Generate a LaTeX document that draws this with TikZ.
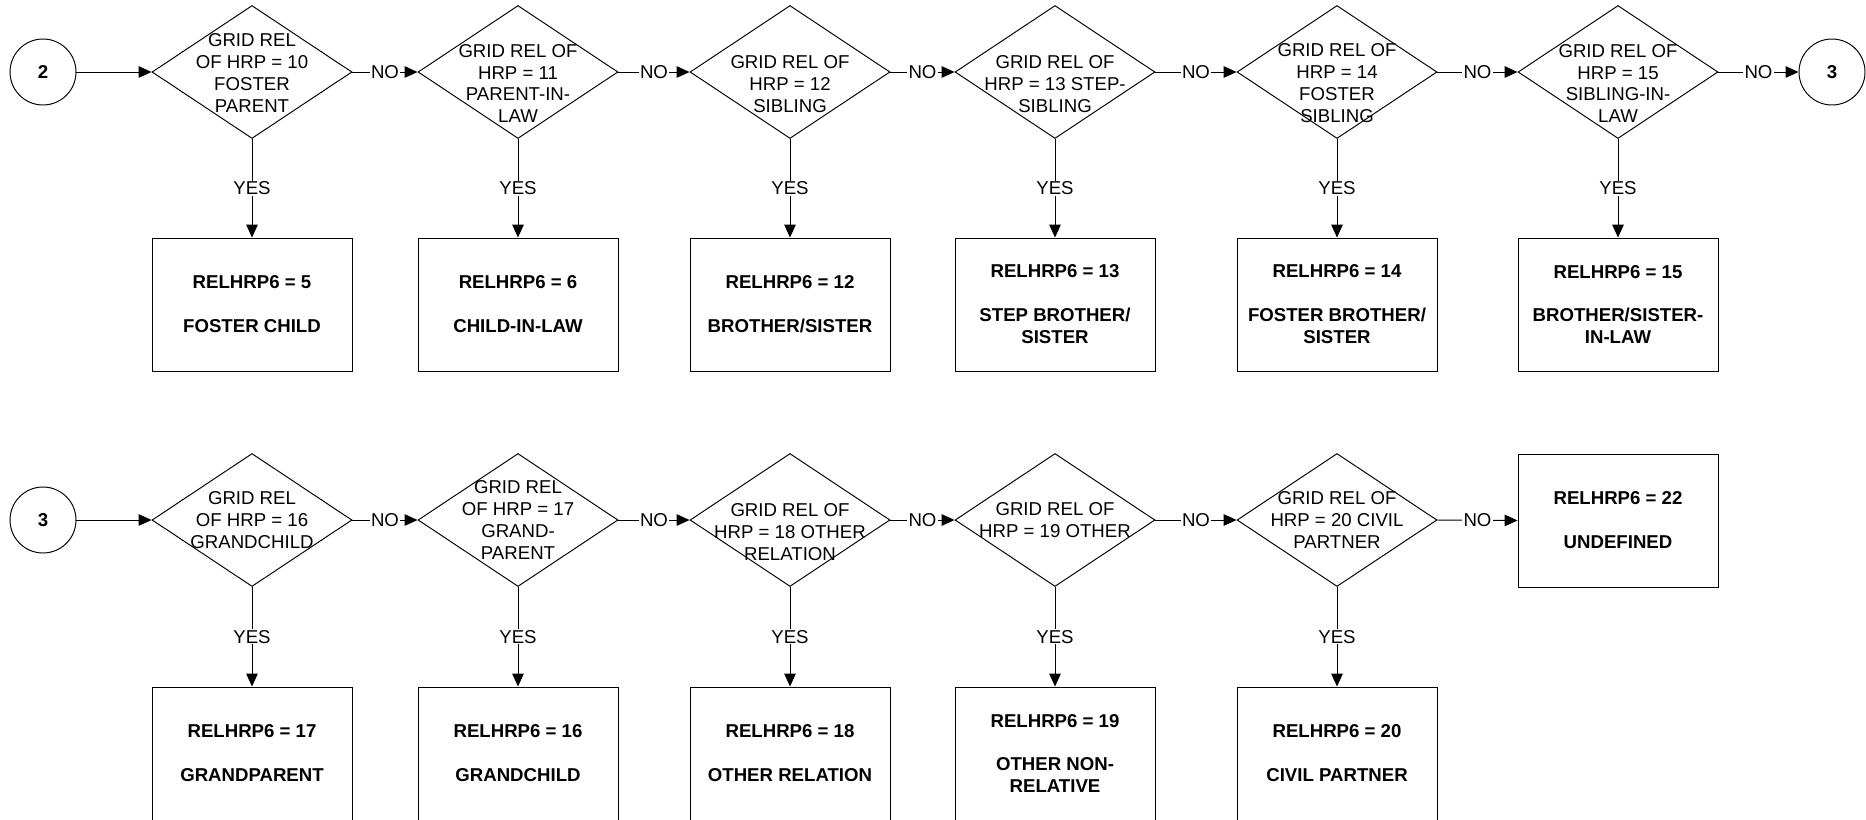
\documentclass[tikz,border=0pt]{standalone}
\usepackage{fontspec}
\setmainfont{Liberation Sans}
\usetikzlibrary{shapes.geometric,arrows.meta}
\begin{document}
\begin{tikzpicture}[x=0.02cm,y=-0.02cm,
  every node/.style={font=\fontsize{10.6}{12.5}\selectfont},
  ln/.style={line width=0.55pt},
  arr/.style={ln, -{Triangle[length=7.4pt,width=6.6pt]}},
  dia/.style={draw, ln, diamond, minimum width=4cm, minimum height=2.66cm, inner sep=0pt},
  dtxt/.style={align=center, inner sep=0pt},
  res/.style={draw, ln, rectangle, minimum width=4cm, minimum height=2.66cm, inner sep=0pt, align=center, font=\fontsize{10.6}{12.5}\selectfont\bfseries},
  conn/.style={draw, ln, circle, minimum size=1.32cm, inner sep=0pt, font=\fontsize{10.6}{12.5}\selectfont\bfseries},
  lab/.style={fill=white, inner sep=0.6pt}
]
\useasboundingbox (0,0) rectangle (1866,819);

% ---------- Row 1 ----------
\node[conn] (c2) at (43,72) {2};
\node[dia] (d1) at (252,72) {};
\node[dia] (d2) at (518,72) {};
\node[dia] (d3) at (790,72) {};
\node[dia] (d4) at (1055,72) {};
\node[dia] (d5) at (1337,72) {};
\node[dia] (d6) at (1618,72) {};
\node[conn] (c3a) at (1832,72) {3};

\node[dtxt] (t1) at (252,73) {GRID REL\\OF HRP = 10\\FOSTER\\PARENT};
\node[dtxt] (t2) at (518,83.5) {GRID REL OF\\HRP = 11\\PARENT-IN-\\LAW};
\node[dtxt] (t3) at (790,84) {GRID REL OF\\HRP = 12\\SIBLING};
\node[dtxt] (t4) at (1055,84) {GRID REL OF\\HRP = 13 STEP-\\SIBLING};
\node[dtxt] (t5) at (1337,83.5) {GRID REL OF\\HRP = 14\\FOSTER\\SIBLING};
\node[dtxt] (t6) at (1618,83.5) {GRID REL OF\\HRP = 15\\SIBLING-IN-\\LAW};

\node[res] (b1) at (252,304.5) {RELHRP6 = 5\\[12.5pt]FOSTER CHILD};
\node[res] (b2) at (518,304.5) {RELHRP6 = 6\\[12.5pt]CHILD-IN-LAW};
\node[res] (b3) at (790,304.5) {RELHRP6 = 12\\[12.5pt]BROTHER/SISTER};
\node[res] (b4) at (1055,304.5) {RELHRP6 = 13\\[12.5pt]STEP BROTHER/\\SISTER};
\node[res] (b5) at (1337,304.5) {RELHRP6 = 14\\[12.5pt]FOSTER BROTHER/\\SISTER};
\node[res] (b6) at (1618,304.5) {RELHRP6 = 15\\[12.5pt]BROTHER/SISTER-\\IN-LAW};

\draw[arr] (c2) -- (d1.west);
\draw[arr] (d1.east) -- node[lab] {NO} (d2.west);
\draw[arr] (d2.east) -- node[lab] {NO} (d3.west);
\draw[arr] (d3.east) -- node[lab] {NO} (d4.west);
\draw[arr] (d4.east) -- node[lab] {NO} (d5.west);
\draw[arr] (d5.east) -- node[lab] {NO} (d6.west);
\draw[arr] (d6.east) -- node[lab] {NO} (c3a);

\draw[arr] (d1.south) -- node[lab] {YES} (b1.north);
\draw[arr] (d2.south) -- node[lab] {YES} (b2.north);
\draw[arr] (d3.south) -- node[lab] {YES} (b3.north);
\draw[arr] (d4.south) -- node[lab] {YES} (b4.north);
\draw[arr] (d5.south) -- node[lab] {YES} (b5.north);
\draw[arr] (d6.south) -- node[lab] {YES} (b6.north);

% ---------- Row 2 ----------
\node[conn] (c3b) at (43,520) {3};
\node[dia] (d7) at (252,520) {};
\node[dia] (d8) at (518,520) {};
\node[dia] (d9) at (790,520) {};
\node[dia] (d10) at (1055,520) {};
\node[dia] (d11) at (1337,520) {};
\node[res] (b12) at (1618,520.5) {RELHRP6 = 22\\[12.5pt]UNDEFINED};

\node[dtxt] (t7) at (252,520) {GRID REL\\OF HRP = 16\\GRANDCHILD};
\node[dtxt] (t8) at (518,520) {GRID REL\\OF HRP = 17\\GRAND-\\PARENT};
\node[dtxt] (t9) at (790,532) {GRID REL OF\\HRP = 18 OTHER\\RELATION};
\node[dtxt] (t10) at (1055,520.5) {GRID REL OF\\HRP = 19 OTHER};
\node[dtxt] (t11) at (1337,520) {GRID REL OF\\HRP = 20 CIVIL\\PARTNER};

\node[res] (b7) at (252,753.5) {RELHRP6 = 17\\[12.5pt]GRANDPARENT};
\node[res] (b8) at (518,753.5) {RELHRP6 = 16\\[12.5pt]GRANDCHILD};
\node[res] (b9) at (790,753.5) {RELHRP6 = 18\\[12.5pt]OTHER RELATION};
\node[res] (b10) at (1055,753.5) {RELHRP6 = 19\\[12.5pt]OTHER NON-\\RELATIVE};
\node[res] (b11) at (1337,753.5) {RELHRP6 = 20\\[12.5pt]CIVIL PARTNER};

\draw[arr] (c3b) -- (d7.west);
\draw[arr] (d7.east) -- node[lab] {NO} (d8.west);
\draw[arr] (d8.east) -- node[lab] {NO} (d9.west);
\draw[arr] (d9.east) -- node[lab] {NO} (d10.west);
\draw[arr] (d10.east) -- node[lab] {NO} (d11.west);
\draw[arr] (d11.east) -- node[lab] {NO} (b12.west);

\draw[arr] (d7.south) -- node[lab] {YES} (b7.north);
\draw[arr] (d8.south) -- node[lab] {YES} (b8.north);
\draw[arr] (d9.south) -- node[lab] {YES} (b9.north);
\draw[arr] (d10.south) -- node[lab] {YES} (b10.north);
\draw[arr] (d11.south) -- node[lab] {YES} (b11.north);
\end{tikzpicture}
\end{document}
